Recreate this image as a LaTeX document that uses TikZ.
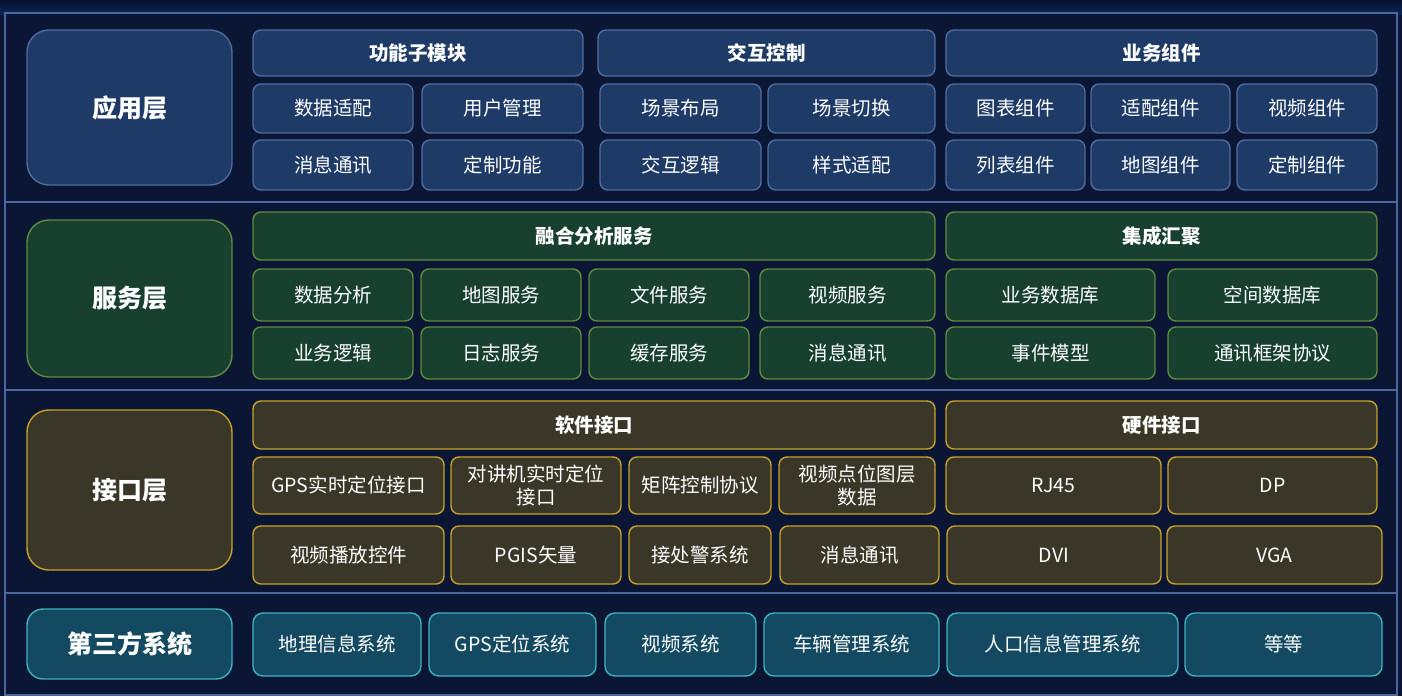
\documentclass[tikz,border=0pt]{standalone}
\usepackage{fontspec}
\setmainfont{Noto Sans CJK SC}
\usepackage{xcolor}
\definecolor{bgblue}{RGB}{10,22,52}
\definecolor{topdark}{RGB}{5,16,44}
\definecolor{glowblue}{RGB}{14,38,88}
\definecolor{framec}{RGB}{74,104,156}
\definecolor{apfill}{RGB}{30,58,102}
\definecolor{apline}{RGB}{78,108,158}
\definecolor{svfill}{RGB}{23,64,47}
\definecolor{svline}{RGB}{96,138,62}
\definecolor{iffill}{RGB}{59,55,40}
\definecolor{ifline}{RGB}{199,161,40}
\definecolor{tpfill}{RGB}{19,74,98}
\definecolor{tpline}{RGB}{63,176,192}

\begin{document}
\begin{tikzpicture}[x=1pt,y=-1pt,line cap=round]
	\tikzstyle{cell}=[rectangle,rounded corners=8pt,line width=1.4pt,inner sep=0pt,
		text=white,align=center,font=\fontsize{19.5}{23}\selectfont];
	\tikzstyle{head}=[cell,font=\fontsize{19.5}{23}\selectfont\bfseries];
	\tikzstyle{layer}=[cell,rounded corners=22pt,minimum width=205pt,font=\fontsize{25}{28}\selectfont\bfseries];
	\tikzstyle{ap}=[draw=apline,fill=apfill];
	\tikzstyle{sv}=[draw=svline,fill=svfill];
	\tikzstyle{if}=[draw=ifline,fill=iffill];
	\tikzstyle{tp}=[draw=tpline,fill=tpfill];
	% background and frame
	\fill[bgblue] (0,0) rectangle (1402,696);
	\shade[top color=topdark,bottom color=glowblue] (0,0) rectangle (1402,14);
	\draw[framec,line width=1.4pt,fill=bgblue] (5,13) rectangle (1397,695);
	\draw[framec,line width=1.4pt] (5,202) -- (1397,202);
	\draw[framec,line width=1.4pt] (5,390) -- (1397,390);
	\draw[framec,line width=1.4pt] (5,593) -- (1397,593);
	% 应用层
	\node[layer,ap,minimum height=155pt] (app) at (129.5,107.5) {应用层};
	\node[head,ap,minimum width=330pt,minimum height=46pt] (apH1) at (418,53) {功能子模块};
	\node[head,ap,minimum width=337pt,minimum height=46pt] (apH2) at (766.5,53) {交互控制};
	\node[head,ap,minimum width=431pt,minimum height=46pt] (apH3) at (1161.5,53) {业务组件};
	\node[cell,ap,minimum width=160pt,minimum height=49pt] (ap11) at (333,108.5) {数据适配};
	\node[cell,ap,minimum width=161pt,minimum height=49pt] (ap12) at (502.5,108.5) {用户管理};
	\node[cell,ap,minimum width=161pt,minimum height=49pt] (ap13) at (680.5,108.5) {场景布局};
	\node[cell,ap,minimum width=167pt,minimum height=49pt] (ap14) at (851.5,108.5) {场景切换};
	\node[cell,ap,minimum width=139pt,minimum height=49pt] (ap15) at (1015.5,108.5) {图表组件};
	\node[cell,ap,minimum width=139pt,minimum height=49pt] (ap16) at (1160.5,108.5) {适配组件};
	\node[cell,ap,minimum width=140pt,minimum height=49pt] (ap17) at (1307,108.5) {视频组件};
	\node[cell,ap,minimum width=160pt,minimum height=50pt] (ap21) at (333,165) {消息通讯};
	\node[cell,ap,minimum width=161pt,minimum height=50pt] (ap22) at (502.5,165) {定制功能};
	\node[cell,ap,minimum width=161pt,minimum height=50pt] (ap23) at (680.5,165) {交互逻辑};
	\node[cell,ap,minimum width=167pt,minimum height=50pt] (ap24) at (851.5,165) {样式适配};
	\node[cell,ap,minimum width=139pt,minimum height=50pt] (ap25) at (1015.5,165) {列表组件};
	\node[cell,ap,minimum width=139pt,minimum height=50pt] (ap26) at (1160.5,165) {地图组件};
	\node[cell,ap,minimum width=140pt,minimum height=50pt] (ap27) at (1307,165) {定制组件};
	% 服务层
	\node[layer,sv,minimum height=157pt] (srv) at (129.5,298.5) {服务层};
	\node[head,sv,minimum width=682pt,minimum height=48pt] (svH1) at (594,236) {融合分析服务};
	\node[head,sv,minimum width=431pt,minimum height=48pt] (svH2) at (1161.5,236) {集成汇聚};
	\node[cell,sv,minimum width=160pt,minimum height=52pt] (sv11) at (333,295) {数据分析};
	\node[cell,sv,minimum width=160pt,minimum height=52pt] (sv12) at (501,295) {地图服务};
	\node[cell,sv,minimum width=160pt,minimum height=52pt] (sv13) at (669,295) {文件服务};
	\node[cell,sv,minimum width=175pt,minimum height=52pt] (sv14) at (847.5,295) {视频服务};
	\node[cell,sv,minimum width=209pt,minimum height=52pt] (sv15) at (1050.5,295) {业务数据库};
	\node[cell,sv,minimum width=209pt,minimum height=52pt] (sv16) at (1272.5,295) {空间数据库};
	\node[cell,sv,minimum width=160pt,minimum height=52pt] (sv21) at (333,353) {业务逻辑};
	\node[cell,sv,minimum width=160pt,minimum height=52pt] (sv22) at (501,353) {日志服务};
	\node[cell,sv,minimum width=160pt,minimum height=52pt] (sv23) at (669,353) {缓存服务};
	\node[cell,sv,minimum width=175pt,minimum height=52pt] (sv24) at (847.5,353) {消息通讯};
	\node[cell,sv,minimum width=209pt,minimum height=52pt] (sv25) at (1050.5,353) {事件模型};
	\node[cell,sv,minimum width=209pt,minimum height=52pt] (sv26) at (1272.5,353) {通讯框架协议};
	% 接口层
	\node[layer,if,minimum height=160pt] (itf) at (129.5,490) {接口层};
	\node[head,if,minimum width=682pt,minimum height=48pt] (ifH1) at (594,425) {软件接口};
	\node[head,if,minimum width=431pt,minimum height=48pt] (ifH2) at (1161.5,425) {硬件接口};
	\node[cell,if,minimum width=191pt,minimum height=57pt] (if11) at (348.5,485.5) {GPS实时定位接口};
	\node[cell,if,minimum width=170pt,minimum height=57pt] (if12) at (536,485.5) {对讲机实时定位\\接口};
	\node[cell,if,minimum width=142pt,minimum height=57pt] (if13) at (700,485.5) {矩阵控制协议};
	\node[cell,if,minimum width=156pt,minimum height=57pt] (if14) at (857,485.5) {视频点位图层\\数据};
	\node[cell,if,minimum width=215pt,minimum height=57pt] (if15) at (1053.5,485.5) {RJ45};
	\node[cell,if,minimum width=209pt,minimum height=57pt] (if16) at (1272.5,485.5) {DP};
	\node[cell,if,minimum width=191pt,minimum height=58pt] (if21) at (348.5,555) {视频播放控件};
	\node[cell,if,minimum width=170pt,minimum height=58pt] (if22) at (536,555) {PGIS矢量};
	\node[cell,if,minimum width=142pt,minimum height=58pt] (if23) at (700,555) {接处警系统};
	\node[cell,if,minimum width=159pt,minimum height=58pt] (if24) at (859.5,555) {消息通讯};
	\node[cell,if,minimum width=214pt,minimum height=58pt] (if25) at (1054,555) {DVI};
	\node[cell,if,minimum width=215pt,minimum height=58pt] (if26) at (1274.5,555) {VGA};
	% 第三方系统
	\node[layer,tp,rounded corners=16pt,minimum height=70pt] (thd) at (129.5,644) {第三方系统};
	\node[cell,tp,rounded corners=10pt,minimum width=168pt,minimum height=63pt] (tp1) at (337,644.5) {地理信息系统};
	\node[cell,tp,rounded corners=10pt,minimum width=167pt,minimum height=63pt] (tp2) at (512.5,644.5) {GPS定位系统};
	\node[cell,tp,rounded corners=10pt,minimum width=151pt,minimum height=63pt] (tp3) at (680.5,644.5) {视频系统};
	\node[cell,tp,rounded corners=10pt,minimum width=175pt,minimum height=63pt] (tp4) at (851.5,644.5) {车辆管理系统};
	\node[cell,tp,rounded corners=10pt,minimum width=231pt,minimum height=63pt] (tp5) at (1062.5,644.5) {人口信息管理系统};
	\node[cell,tp,rounded corners=10pt,minimum width=197pt,minimum height=63pt] (tp6) at (1283.5,644.5) {等等};
	\useasboundingbox (0,0) rectangle (1402,696);
\end{tikzpicture}
\end{document}
